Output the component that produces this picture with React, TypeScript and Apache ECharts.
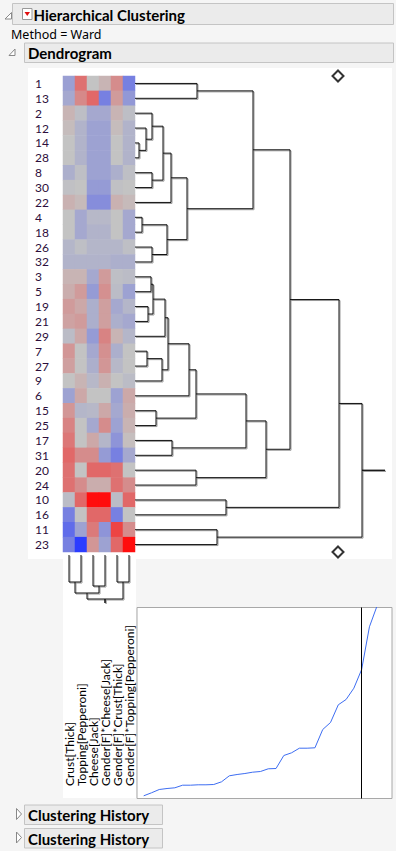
import React, { useEffect, useRef } from 'react';
import * as echarts from 'echarts';

const rowLabels = ['1', '13', '2', '12', '14', '28', '8', '30', '22', '4', '18', '26', '32', '3', '5', '19', '21', '29', '7', '27', '9', '6', '15', '25', '17', '31', '20', '24', '10', '16', '11', '23'];

const columnLabels = ['Crust[Thick]', 'Topping[Pepperoni]', 'Cheese[Jack]', 'Gender[F]*Cheese[Jack]', 'Gender[F]*Crust[Thick]', 'Gender[F]*Topping[Pepperoni]'];

// standardized values per row (rows in dendrogram order), columns in columnLabels order
const cellValues: number[][] = [
  [-0.27, 0.45, 0.0, 0.08, 0.3, -0.5],
  [-0.2, 0.32, 0.5, -0.5, 0.22, -0.32],
  [0.08, -0.04, -0.2, -0.2, 0.08, -0.04],
  [0.04, -0.12, -0.25, -0.25, 0.04, -0.12],
  [0.0, -0.12, -0.25, -0.25, 0.0, -0.12],
  [0.0, -0.12, -0.25, -0.25, 0.0, -0.12],
  [-0.15, -0.03, -0.25, -0.25, -0.15, -0.03],
  [-0.02, 0.0, -0.3, -0.3, -0.02, 0.0],
  [0.1, 0.05, -0.4, -0.4, 0.1, 0.05],
  [0.0, -0.2, -0.08, -0.08, 0.0, -0.2],
  [0.0, -0.2, -0.12, -0.12, 0.0, -0.2],
  [-0.1, -0.03, -0.1, -0.1, -0.1, -0.03],
  [-0.12, -0.12, -0.12, -0.12, -0.15, -0.15],
  [0.08, 0.08, -0.2, 0.22, -0.03, -0.05],
  [0.12, 0.22, -0.3, 0.28, -0.05, -0.25],
  [0.22, 0.15, -0.15, 0.2, -0.2, -0.1],
  [0.18, 0.22, -0.15, 0.2, -0.15, -0.2],
  [-0.05, 0.15, -0.3, 0.35, 0.08, -0.1],
  [0.25, 0.0, -0.2, 0.28, -0.15, 0.0],
  [0.2, 0.0, -0.15, 0.25, -0.08, 0.0],
  [0.0, 0.08, -0.08, 0.1, 0.0, -0.05],
  [-0.25, 0.15, 0.0, 0.0, -0.25, 0.15],
  [0.25, -0.1, -0.08, 0.15, -0.2, 0.12],
  [0.35, 0.0, -0.2, 0.3, -0.25, 0.08],
  [0.42, 0.0, 0.15, -0.1, -0.35, 0.03],
  [0.5, 0.3, 0.3, -0.3, -0.5, -0.2],
  [0.45, 0.0, 0.5, 0.5, 0.45, 0.0],
  [0.45, 0.3, 0.12, 0.12, 0.45, 0.3],
  [-0.05, 0.5, 1.0, 1.0, -0.05, 0.5],
  [-0.5, 0.0, 0.5, 0.5, -0.5, 0.0],
  [-0.65, -0.25, 0.4, -0.35, 0.7, 0.3],
  [-0.5, -1.0, 0.25, -0.25, 0.5, 1.0],
];

// [left child, right child, joining distance]; 'mN' = N-th merge
const rowMerges: [string, string, number][] = [
  ['1', '13', 62],
  ['14', '28', 4],
  ['12', 'm2', 11],
  ['2', 'm3', 17],
  ['8', '30', 17],
  ['m4', 'm5', 28],
  ['m6', '22', 36],
  ['4', '18', 7],
  ['26', '32', 17],
  ['m8', 'm9', 32],
  ['m7', 'm10', 52],
  ['m1', 'm11', 118],
  ['3', '5', 16],
  ['19', '21', 13],
  ['m13', 'm14', 18],
  ['m15', '29', 30],
  ['7', '27', 12],
  ['m17', '9', 27],
  ['m16', 'm18', 33],
  ['m19', '6', 54],
  ['15', '25', 21],
  ['m20', 'm21', 61],
  ['17', '31', 37],
  ['m22', 'm23', 111],
  ['20', '24', 61],
  ['m24', 'm25', 131],
  ['m12', 'm26', 155],
  ['10', '16', 91],
  ['m27', 'm28', 204],
  ['11', '23', 82],
  ['m29', 'm30', 227],
];
const rowRootEnd = 250;
const rowDistanceMax = 250;

const columnMerges: [string, string, number][] = [
  ['Crust[Thick]', 'Topping[Pepperoni]', 27],
  ['Cheese[Jack]', 'Gender[F]*Cheese[Jack]', 31],
  ['m1', 'm2', 38],
  ['Gender[F]*Crust[Thick]', 'Gender[F]*Topping[Pepperoni]', 27],
  ['m3', 'm4', 44],
];
const columnRootEnd = 48;

const cutDistance = 203;

// scree plot: joining distance by step
const screeDistances = [2.7, 5.7, 9, 10, 10.7, 13.3, 13.3, 13.7, 13.7, 14, 16.7, 22.7, 24, 25, 26.3, 27, 29.7, 30, 43, 45.7, 50.3, 50.3, 50.7, 69, 76, 93.7, 99, 110.3, 129, 171.7, 193];
const screeMax = 191;
const selectedStep = 28;

function buildLinks(leaves: string[], merges: [string, string, number][], rootEnd: number) {
  const nodes: Record<string, { pos: number; h: number }> = {};
  leaves.forEach((l, i) => (nodes[l] = { pos: i, h: 0 }));
  const links: number[][] = [];
  merges.forEach(([a, b, h], i) => {
    const A = nodes[a];
    const B = nodes[b];
    links.push([A.h, B.h, h, A.pos, B.pos]);
    nodes['m' + (i + 1)] = { pos: (A.pos + B.pos) / 2, h };
  });
  const root = nodes['m' + merges.length];
  links.push([root.h, root.h, rootEnd, root.pos, root.pos]);
  return links;
}

const FONT = 'Lato, "Noto Sans", sans-serif';

export default function App() {
  const ref = useRef<HTMLDivElement>(null);
  useEffect(() => {
    if (!ref.current) return;
    const chart = echarts.init(ref.current, undefined, { renderer: 'svg' });
    const heatData: number[][] = [];
    cellValues.forEach((row, r) => row.forEach((v, c) => heatData.push([c, r, v])));
    const rowLinks = buildLinks(rowLabels, rowMerges, rowRootEnd);
    const colLinks = buildLinks(columnLabels, columnMerges, columnRootEnd);

    const uShape = (horizontal: boolean) => (params: any, api: any) => {
      const hA = api.value(0), hB = api.value(1), h = api.value(2), pA = api.value(3), pB = api.value(4);
      const c = (hv: number, pv: number) => (horizontal ? api.coord([hv, pv]) : api.coord([pv, hv]));
      const pts = [c(hA, pA), c(h, pA), c(h, pB), c(hB, pB)];
      return {
        type: 'group',
        children: [
          { type: 'polyline', shape: { points: pts.map((p: number[]) => [p[0] + 1, p[1] + 1]) }, style: { stroke: '#9a9a9a', lineWidth: 1, fill: null } },
          { type: 'polyline', shape: { points: pts }, style: { stroke: '#111', lineWidth: 1, fill: null } },
        ],
      };
    };

    const header = (x: number, y: number, w: number, h: number, label: string, textX: number) => [
      { type: 'rect', shape: { x, y, width: w, height: h }, style: { fill: '#ebebeb', stroke: '#c4c4c4', lineWidth: 1 } },
      { type: 'text', x: textX, y: y + h / 2 + 0.5, style: { text: label, fontSize: 15, fontWeight: 'bold', fontFamily: 'Lato', fill: '#000', verticalAlign: 'middle' } },
    ];

    chart.setOption({
      animation: false,
      backgroundColor: '#f5f5f5',
      graphic: [
        { type: 'rect', z: -10, shape: { x: 28, y: 68, width: 364, height: 491 }, style: { fill: '#fff' } },
        { type: 'rect', z: -10, shape: { x: 63, y: 559, width: 73, height: 239 }, style: { fill: '#fff' } },
        ...header(12.5, 3.5, 381, 21, 'Hierarchical Clustering', 33.5),
        { type: 'polygon', shape: { points: [[5, 19], [11.5, 19], [11.5, 12.5]] }, style: { fill: '#fff', stroke: '#888', lineWidth: 1 } },
        { type: 'rect', shape: { x: 22.5, y: 8.5, width: 9.5, height: 11 }, style: { fill: '#fff', stroke: '#999', lineWidth: 1 } },
        { type: 'polygon', shape: { points: [[24.5, 12], [30, 12], [27.25, 16]] }, style: { fill: '#e01010' } },
        { type: 'text', x: 11, y: 34, style: { text: 'Method = Ward', fontSize: 12.5, fontFamily: 'Noto Sans', fill: '#000', verticalAlign: 'middle' } },
        ...header(24.5, 43, 369, 19.5, 'Dendrogram', 28),
        { type: 'polygon', shape: { points: [[9, 55.5], [15, 55.5], [15, 49]] }, style: { fill: '#fff', stroke: '#888', lineWidth: 1 } },
        ...header(24.5, 805, 138, 19.5, 'Clustering History', 28),
        { type: 'polygon', shape: { points: [[16.5, 808.5], [21.5, 814], [16.5, 819.5]] }, style: { fill: '#fff', stroke: '#888', lineWidth: 1 } },
        ...header(24.5, 828.5, 138, 19.5, 'Clustering History', 28),
        { type: 'polygon', shape: { points: [[16.5, 832], [21.5, 837.5], [16.5, 843]] }, style: { fill: '#fff', stroke: '#888', lineWidth: 1 } },
      ],
      grid: [
        { left: 63, top: 76, width: 72, height: 476 },
        { left: 135, top: 76, width: 250, height: 476 },
        { left: 63, top: 555, width: 72, height: 48 },
        { left: 63, top: 787, width: 72, height: 1 },
        { left: 137, top: 607.5, width: 255, height: 191, show: true, backgroundColor: '#fff', borderColor: '#a8a8a8', borderWidth: 1 },
      ],
      xAxis: [
        { type: 'category', gridIndex: 0, data: columnLabels, show: false },
        { type: 'value', gridIndex: 1, min: 0, max: rowDistanceMax, show: false },
        { type: 'value', gridIndex: 2, min: -0.5, max: 5.5, show: false },
        {
          type: 'category', gridIndex: 3, data: columnLabels, position: 'top',
          axisLine: { show: false }, axisTick: { show: false },
          axisLabel: { rotate: 90, margin: 1, interval: 0, fontSize: 12, fontFamily: FONT, color: '#000' },
        },
        { type: 'value', gridIndex: 4, min: -0.86, max: 31.9, show: false },
      ],
      yAxis: [
        {
          type: 'category', gridIndex: 0, data: rowLabels, inverse: true,
          axisLine: { show: false }, axisTick: { show: false },
          axisLabel: { interval: 0, align: 'left', margin: 28, fontSize: 12, fontFamily: FONT, color: '#2d0f3c' },
        },
        { type: 'value', gridIndex: 1, min: -0.5, max: rowLabels.length - 0.5, inverse: true, show: false },
        { type: 'value', gridIndex: 2, min: 0, max: columnRootEnd, inverse: true, show: false },
        { type: 'value', gridIndex: 3, show: false },
        { type: 'value', gridIndex: 4, min: 0, max: screeMax, show: false },
      ],
      visualMap: {
        show: false, type: 'continuous', min: -1, max: 1, seriesIndex: 0, dimension: 2,
        inRange: { color: ['#2b3dff', '#c3c3c3', '#ff0d0d'] },
      },
      series: [
        { type: 'heatmap', xAxisIndex: 0, yAxisIndex: 0, data: heatData, itemStyle: { borderWidth: 0 } },
        { type: 'custom', xAxisIndex: 1, yAxisIndex: 1, data: rowLinks, renderItem: uShape(true), silent: true },
        {
          type: 'scatter', xAxisIndex: 1, yAxisIndex: 1, clip: false, symbol: 'diamond', symbolSize: [11, 11], z: 10,
          data: [[cutDistance, -0.5], [cutDistance, rowLabels.length - 0.5]],
          itemStyle: { color: '#fff', borderColor: '#000', borderWidth: 2 },
        },
        { type: 'custom', xAxisIndex: 2, yAxisIndex: 2, data: colLinks, renderItem: uShape(false), silent: true },
        {
          type: 'line', xAxisIndex: 4, yAxisIndex: 4, data: screeDistances.map((v, i) => [i, v]),
          showSymbol: false, symbol: 'none', lineStyle: { color: '#3d6df2', width: 1 },
          markLine: {
            silent: true, symbol: 'none', label: { show: false },
            lineStyle: { color: '#000', width: 1, type: 'solid' },
            data: [{ xAxis: selectedStep }],
          },
        },
      ],
    });
    return () => chart.dispose();
  }, []);
  return <div ref={ref} style={{ position: 'fixed', left: 0, top: 0, width: 396, height: 851 }} />;
}
